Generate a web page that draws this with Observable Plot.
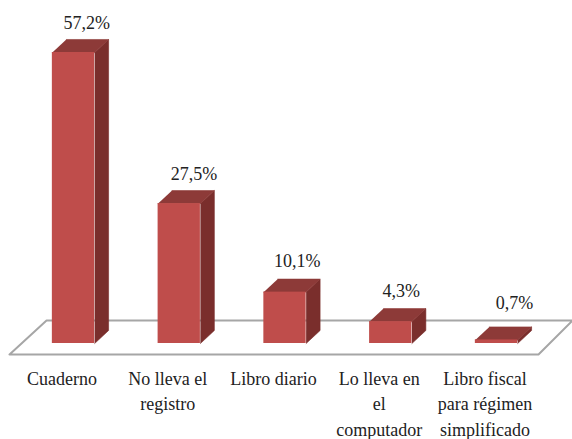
<!DOCTYPE html>
<html>
<head>
<meta charset="utf-8">
<script src="https://cdn.jsdelivr.net/npm/d3@7"></script>
<script src="https://cdn.jsdelivr.net/npm/@observablehq/plot@0.6"></script>
<style>html,body{margin:0;padding:0;background:#fff;overflow:hidden}svg{display:block}</style>
</head>
<body>
<script>
const categories = ["Cuaderno", "No lleva el\nregistro", "Libro diario", "Lo lleva en\nel\ncomputador", "Libro fiscal\npara régimen\nsimplificado"];
const values = [57.2, 27.5, 10.1, 4.3, 0.7];
const valueLabels = ["57,2%", "27,5%", "10,1%", "4,3%", "0,7%"];
const labelShiftX = [0.125, 0.14, 0.115, 0.10, 0.17];
const labelRise = [5.7, 5.8, 6.1, 6.0, 7.3];

const halfWidth = 0.2, depthX = 0.132, depthY = 2.56;
const floorX = [-0.605, 4.397, 4.72, -0.255];
const floorY = [-2.16, -2.16, 4.52, 4.52];
const floor = floorX.map((x, i) => ({x, y: floorY[i]}));

const bars = values.map((v, i) => ({i, v, label: valueLabels[i], lx: i + labelShiftX[i], ly: v + labelRise[i]}));
const side = bars.flatMap(({i, v}) => [
  {i, x: i + halfWidth, y: 0},
  {i, x: i + halfWidth + depthX, y: depthY},
  {i, x: i + halfWidth + depthX, y: v + depthY},
  {i, x: i + halfWidth, y: v}
]);
const lid = bars.flatMap(({i, v}) => [
  {i, x: i - halfWidth, y: v},
  {i, x: i + halfWidth, y: v},
  {i, x: i + halfWidth + depthX, y: v + depthY},
  {i, x: i - halfWidth + depthX, y: v + depthY}
]);

const font = "'Liberation Serif', 'Times New Roman', serif";
const chart = Plot.plot({
  width: 572, height: 439,
  marginTop: 0, marginRight: 0, marginLeft: 0, marginBottom: 75,
  style: {fontFamily: font, background: "#fff"},
  x: {domain: [0, 4], range: [73, 496]},
  y: {domain: [0, 57.2], range: [343, 52], axis: null},
  marks: [
    Plot.line([...floor, floor[0]], {x: "x", y: "y", fill: "#fff", stroke: "#a6a6a6", strokeWidth: 2}),
    Plot.line(side, {x: "x", y: "y", z: "i", fill: "#7a2e2c", stroke: "#7a2e2c", strokeWidth: 0.6}),
    Plot.line(lid, {x: "x", y: "y", z: "i", fill: "#8d3a38", stroke: "#8d3a38", strokeWidth: 0.6}),
    Plot.rect(bars, {x1: d => d.i - halfWidth, x2: d => d.i + halfWidth, y1: 0, y2: "v", fill: "#bf4d4b"}),
    Plot.text(bars, {x: "lx", y: "ly", text: "label", fontSize: 18, fill: "#222"}),
    Plot.axisX({
      ticks: [0, 1, 2, 3, 4], tickSize: 0, tickPadding: 2, dx: -11.5,
      tickFormat: i => categories[i], fontSize: 18, lineHeight: 1.42,
      fill: "#222", label: null
    })
  ]
});
document.body.appendChild(chart);
</script>
</body>
</html>
